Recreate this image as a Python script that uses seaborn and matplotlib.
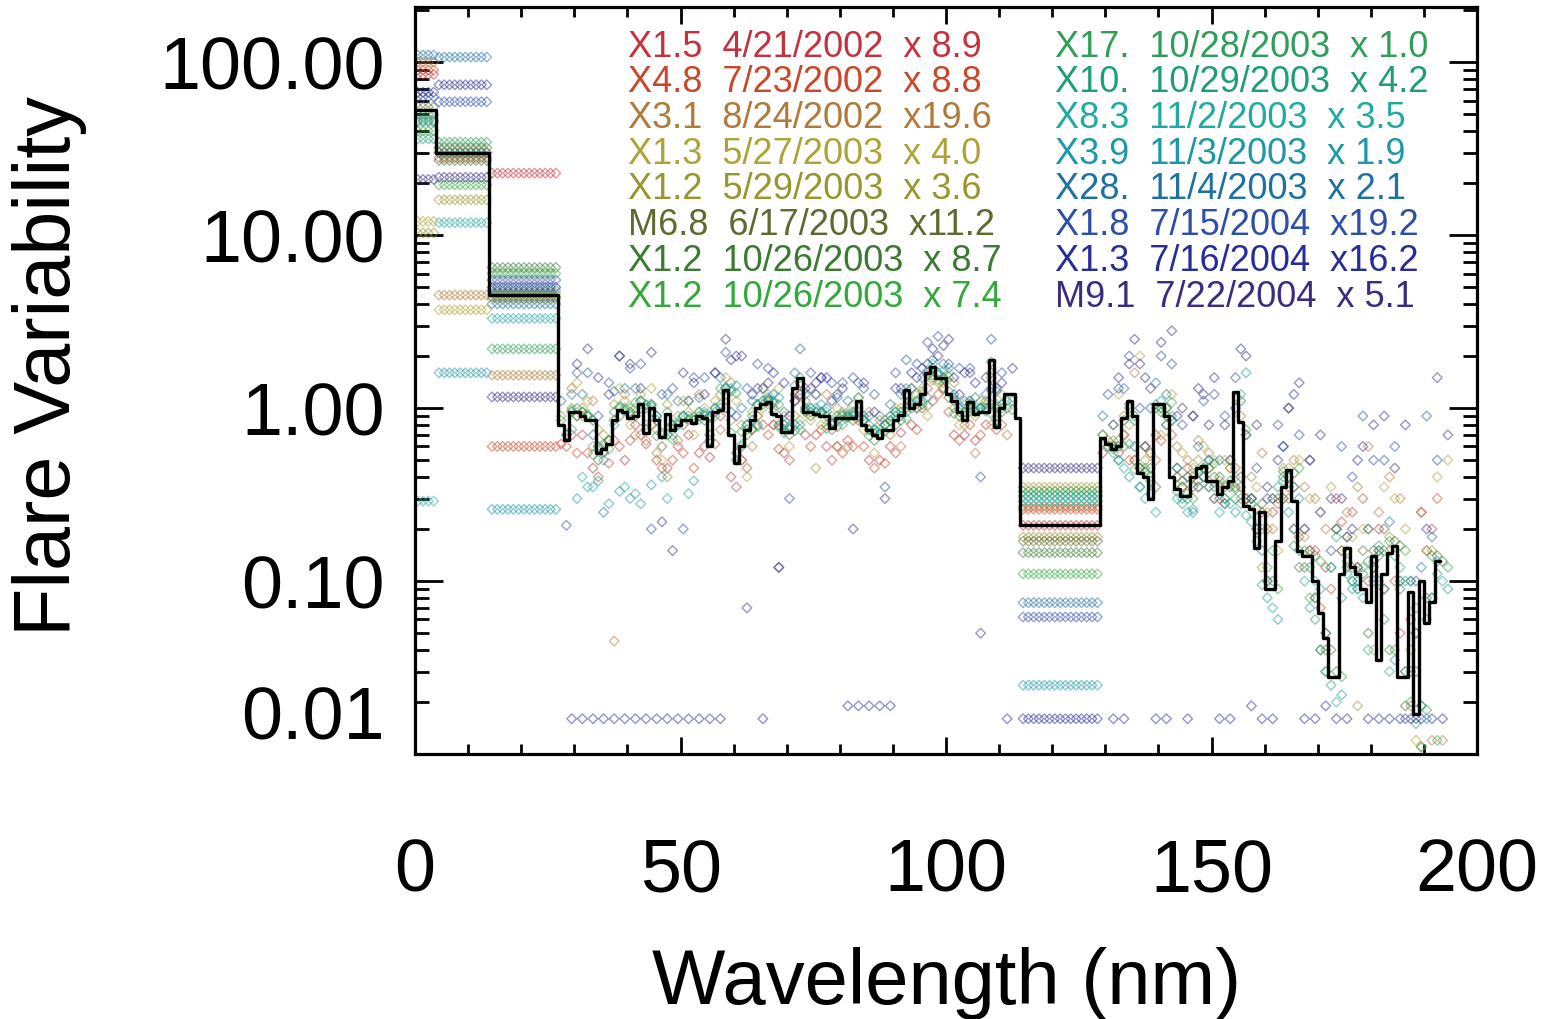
import numpy as np
import pandas as pd
import matplotlib
matplotlib.use("Agg")
import matplotlib.pyplot as plt
from matplotlib.ticker import MultipleLocator, LogLocator, NullFormatter
import seaborn as sns

# flares shown in the legend text
flare_class = ["X1.5", "X4.8", "X3.1", "X1.3", "X1.2", "M6.8", "X1.2", "X1.2",
               "X17.", "X10.", "X8.3", "X3.9", "X28.", "X1.8", "X1.3", "M9.1"]
flare_date = ["4/21/2002", "7/23/2002", "8/24/2002", "5/27/2003", "5/29/2003",
              "6/17/2003", "10/26/2003", "10/26/2003", "10/28/2003", "10/29/2003",
              "11/2/2003", "11/3/2003", "11/4/2003", "7/15/2004", "7/16/2004",
              "7/22/2004"]
flare_scale = ["x 8.9", "x 8.8", "x19.6", "x 4.0", "x 3.6", "x11.2", "x 8.7", "x 7.4",
               "x 1.0", "x 4.2", "x 3.5", "x 1.9", "x 2.1", "x19.2", "x16.2", "x 5.1"]
flare_colors = ["#c4323c", "#c8482c", "#b07a3a", "#aea436", "#98962c", "#5e6a30",
                "#3c7a32", "#34a83c", "#2e9e58", "#1e9e78", "#20aaa0", "#1c98a8",
                "#1e72a0", "#2e4ea8", "#262c98", "#3a2c80"]

# wide bins (nm) where each flare has a single value
bin_0_4 = [85, 90, 100, 12, 10.3, 55, 46, 40, 50, 36, 0.29, 45, 110, 63, 67, 21]
bin_4_14 = [30, 28, 4.5, 3.7, 16, 32, 27, 19.5, 34.5, 30, 11.8, 1.6, 107, 59, 74, 21.6]
bin_14_27 = [22.8, 0.6, 1.55, 4.3, 4.6, 4.4, 6.5, 6.0, 2.2, 4.8, 3.3, 0.26, 4.0, 5.5, 5.0, 1.16]
bin_114_129 = [0.21, 0.26, 0.27, 0.35, 0.18, 0.17, 0.146, 0.11, 0.33, 0.31, 0.29, 0.025,
               0.075, 0.062, 0.016, 0.45]

# 1 nm points, 27-111 nm (every 4th nm, start shifted by flare)
vals_a = [
    [0.62, 0.7, 0.55, 0.5, 0.62, 0.45, 0.7, 0.52, 0.4, 0.75, 0.8, 1.1, 0.7, 0.6, 0.85, 0.5, 0.72, 1.0, 1.3, 0.7, 0.8],
    [0.6, 0.55, 0.48, 0.65, 0.8, 0.5, 0.45, 0.62, 0.35, 0.9, 0.58, 1.2, 0.75, 0.55, 0.6, 0.48, 1.0, 1.3, 0.95, 0.8, 1.5],
    [1.3, 1.1, 0.045, 0.7, 0.55, 0.65, 1.2, 0.75, 0.5, 1.3, 0.9, 1.1, 1.2, 0.6, 0.95, 0.7, 1.3, 1.5, 1.4, 0.55, 0.9],
    [1.4, 0.75, 1.3, 1.2, 0.5, 1.1, 1.0, 1.5, 0.4, 1.2, 0.6, 0.85, 0.9, 1.05, 0.55, 1.0, 1.2, 1.4, 0.8, 1.1, 1.2],
    [0.9, 1.0, 0.7, 1.1, 0.8, 1.05, 0.95, 0.7, 0.85, 0.95, 1.0, 1.2, 0.45, 1.0, 1.15, 0.8, 1.0, 1.3, 1.4, 0.95, 1.05],
    [0.7, 0.9, 0.65, 0.95, 1.05, 0.8, 0.85, 1.0, 0.55, 1.05, 0.8, 1.4, 0.95, 0.9, 0.85, 0.8, 1.2, 1.55, 1.15, 1.05, 1.6],
    [0.95, 0.85, 0.85, 0.9, 0.85, 0.8, 0.9, 1.0, 0.6, 1.05, 0.75, 0.95, 0.9, 0.88, 0.75, 0.85, 1.0, 1.7, 1.1, 0.95, 0.8],
    [0.9, 0.6, 1.0, 1.0, 0.7, 0.9, 0.9, 1.2, 0.75, 1.1, 0.75, 0.95, 0.8, 0.9, 0.72, 0.95, 1.0, 1.45, 0.95, 1.0, 1.0],
    [0.85, 0.95, 0.62, 1.0, 0.75, 0.95, 0.9, 0.65, 0.72, 0.9, 0.95, 1.35, 0.95, 0.9, 1.15, 0.7, 0.95, 1.25, 1.5, 0.9, 1.0],
    [0.7, 0.9, 0.65, 0.92, 1.05, 0.8, 0.85, 1.0, 0.5, 1.05, 0.78, 1.5, 0.95, 0.92, 0.85, 0.8, 1.3, 1.65, 1.25, 1.1, 1.85],
    [0.75, 0.35, 0.8, 0.32, 0.9, 0.8, 0.95, 1.05, 0.62, 1.1, 0.8, 1.0, 0.95, 0.92, 0.8, 0.9, 1.05, 1.8, 1.15, 1.0, 0.85],
    [0.3, 0.38, 0.33, 0.28, 0.4, 0.9, 0.95, 1.3, 0.8, 1.15, 0.78, 1.0, 0.82, 0.95, 0.75, 0.95, 1.1, 1.6, 1.0, 1.0, 1.05],
    [1.1, 1.2, 0.25, 1.3, 1.0, 1.2, 1.1, 0.9, 0.95, 1.1, 1.2, 1.6, 1.2, 1.15, 1.4, 0.9, 1.2, 1.5, 1.8, 1.1, 1.2],
    [0.21, 1.6, 1.4, 1.7, 0.2, 1.3, 1.5, 1.6, 0.9, 1.8, 0.12, 2.2, 1.5, 1.4, 1.3, 0.35, 1.9, 2.4, 1.8, 1.7, 2.5],
    [0.016, 0.016, 0.016, 0.016, 0.016, 0.016, 0.016, 0.016, 2.0, 0.016, 1.4, 1.3, 1.5, 0.019, 0.019, 0.019, 1.6, 2.2, 1.5, 1.4, 1.3],
    [1.8, 1.5, 2.0, 1.3, 0.22, 1.6, 1.2, 2.5, 0.07, 1.4, 0.9, 1.3, 1.1, 0.2, 0.95, 1.3, 1.5, 2.0, 1.2, 0.05, 1.4],
]
# second set, 2 nm further along
vals_a2 = [
    [0.7, 0.45, 0.65, 0.8, 0.5, 0.6, 0.55, 0.9, 0.5, 0.8, 0.55, 0.7, 0.6, 0.65, 0.5, 0.6, 0.8, 1.1, 0.7, 0.65, 0.75],
    [0.55, 0.4, 0.6, 0.7, 0.45, 0.55, 0.6, 1.0, 0.45, 0.7, 0.5, 0.6, 0.5, 0.6, 0.45, 0.55, 0.75, 1.2, 0.65, 0.7, 0.8],
    [0.9, 0.6, 1.2, 0.65, 0.4, 1.1, 0.7, 1.4, 0.6, 0.8, 0.9, 1.2, 0.6, 1.0, 0.85, 0.6, 1.2, 1.3, 0.8, 1.1, 0.7],
    [1.1, 0.65, 0.8, 1.3, 0.75, 0.7, 1.1, 1.1, 0.9, 1.3, 0.85, 0.8, 0.95, 0.75, 0.85, 1.0, 0.9, 1.6, 1.1, 0.8, 1.15],
    [1.0, 0.6, 1.05, 1.0, 0.75, 0.9, 0.95, 1.2, 0.8, 1.0, 0.8, 1.0, 0.8, 0.95, 0.75, 0.9, 1.1, 1.45, 1.0, 0.9, 1.05],
    [0.9, 0.5, 0.9, 1.1, 0.6, 0.8, 0.85, 1.3, 0.7, 1.1, 0.7, 0.9, 0.75, 0.85, 0.65, 0.8, 1.0, 1.55, 0.9, 1.0, 0.95],
    [0.95, 0.56, 0.97, 1.04, 0.7, 0.86, 0.88, 1.25, 0.76, 1.07, 0.74, 0.95, 0.78, 0.88, 0.71, 0.85, 1.05, 1.48, 0.95, 0.96, 1.0],
    [0.92, 0.58, 1.0, 1.02, 0.66, 0.88, 0.9, 1.22, 0.78, 1.05, 0.75, 0.93, 0.8, 0.86, 0.73, 0.87, 1.03, 1.52, 0.97, 0.93, 0.98],
    [0.97, 0.54, 0.95, 1.08, 0.69, 0.83, 0.86, 1.3, 0.73, 1.1, 0.72, 0.97, 0.76, 0.9, 0.69, 0.84, 1.07, 1.55, 0.93, 0.97, 1.02],
    [1.0, 0.6, 1.02, 1.1, 0.72, 0.9, 0.92, 1.32, 0.8, 1.12, 0.78, 1.0, 0.82, 0.92, 0.75, 0.9, 1.1, 1.6, 1.0, 1.0, 1.05],
    [0.4, 0.5, 0.35, 1.05, 0.3, 0.32, 0.9, 1.3, 0.85, 1.1, 0.8, 1.0, 0.85, 0.95, 0.75, 0.9, 1.1, 1.65, 1.05, 1.0, 1.1],
    [0.35, 0.28, 0.3, 0.36, 0.7, 0.38, 0.95, 1.35, 0.8, 1.15, 0.8, 1.05, 0.85, 0.9, 0.8, 0.95, 1.15, 1.7, 1.05, 1.05, 1.1],
    [1.2, 0.7, 1.25, 1.3, 0.9, 1.1, 1.15, 1.5, 1.0, 1.3, 0.95, 1.2, 1.0, 1.1, 0.9, 1.05, 1.3, 1.9, 1.2, 1.15, 1.25],
    [1.6, 0.9, 2.0, 1.8, 1.2, 0.2, 1.5, 2.1, 1.3, 1.7, 0.3, 1.6, 1.4, 1.5, 1.2, 1.6, 1.8, 2.6, 1.7, 0.4, 1.6],
    [0.016, 0.016, 0.016, 0.016, 0.016, 0.016, 0.016, 1.9, 1.2, 1.6, 1.1, 1.4, 1.2, 0.019, 0.019, 1.3, 1.7, 2.3, 1.6, 1.5, 0.016],
    [2.2, 1.2, 1.8, 2.1, 0.15, 1.4, 1.6, 2.0, 1.3, 0.12, 1.2, 1.5, 1.3, 1.4, 0.3, 1.2, 1.8, 2.5, 1.6, 1.3, 1.7],
]

# 1 nm points, 129-194 nm
vals_b = [
    [0.55, 0.7, 0.6, 0.8, 0.45, 0.35, 0.5, 0.3, 0.25, 0.35, 0.15, 0.3, 0.12, 0.2, 0.05, 0.25],
    [0.65, 0.5, 0.55, 0.7, 0.4, 0.3, 0.45, 0.2, 0.28, 0.18, 0.07, 0.22, 0.3, 0.09, 0.03, 0.15],
    [0.8, 1.6, 0.5, 0.6, 0.65, 0.35, 0.9, 0.55, 0.3, 0.35, 0.2, 0.25, 0.6, 0.4, 0.019, 0.012],
    [1.2, 2.0, 0.7, 0.55, 0.6, 0.5, 0.7, 0.25, 0.45, 0.3, 0.35, 0.18, 0.04, 0.3, 0.012, 0.4],
    [0.7, 0.9, 0.5, 0.9, 0.4, 0.45, 0.45, 0.3, 0.2, 0.2, 0.08, 0.2, 0.019, 0.15, 0.1, 0.011],
    [0.6, 1.0, 0.45, 0.85, 0.35, 0.4, 0.35, 0.2, 0.3, 0.12, 0.04, 0.15, 0.15, 0.2, 0.019, 0.08],
    [0.6, 0.9, 0.35, 0.45, 0.38, 0.4, 1.1, 0.28, 0.4, 0.12, 0.04, 0.12, 0.05, 0.04, 0.1, 0.08],
    [0.65, 0.45, 1.0, 0.38, 0.45, 0.3, 0.75, 0.12, 0.3, 0.08, 0.12, 0.1, 0.13, 0.04, 0.07, 0.012],
    [0.7, 0.85, 0.45, 1.0, 0.3, 0.5, 0.38, 0.3, 0.15, 0.16, 0.06, 0.18, 0.09, 0.16, 0.1, 0.011],
    [0.6, 1.05, 0.38, 0.85, 0.25, 0.35, 0.3, 0.17, 0.35, 0.15, 0.04, 0.08, 0.12, 0.06, 0.03, 0.06],
    [0.55, 0.85, 0.25, 0.3, 0.35, 0.25, 1.2, 0.2, 0.38, 0.1, 0.03, 0.11, 0.04, 0.03, 0.1, 0.08],
    [0.5, 0.35, 1.1, 0.3, 0.4, 0.28, 1.6, 0.1, 0.25, 0.07, 0.12, 0.09, 0.1, 0.035, 0.05, 0.13],
    [0.9, 1.3, 0.6, 1.2, 0.4, 0.5, 0.5, 0.3, 0.3, 0.2, 0.08, 0.2, 0.1, 0.15, 0.09, 0.12],
    [1.2, 2.0, 1.0, 1.8, 0.9, 1.2, 1.5, 0.45, 0.8, 0.7, 0.25, 0.6, 0.9, 0.5, 0.016, 0.9],
    [0.016, 2.5, 0.016, 0.9, 1.3, 0.016, 2.2, 0.016, 0.6, 0.016, 0.019, 0.016, 0.016, 0.016, 0.016, 0.016],
    [1.5, 1.8, 2.4, 1.0, 1.2, 0.8, 2.0, 0.35, 1.0, 0.5, 0.3, 0.2, 0.8, 0.45, 0.016, 1.5],
]
vals_b2 = [
    [0.6, 0.5, 0.7, 0.4, 0.35, 0.3, 0.35, 0.25, 0.3, 0.2, 0.12, 0.18, 0.1, 0.15, 0.06, 0.2],
    [0.55, 0.45, 0.65, 0.35, 0.4, 0.28, 0.3, 0.2, 0.35, 0.15, 0.09, 0.25, 0.12, 0.1, 0.05, 0.3],
    [0.7, 0.6, 0.9, 0.5, 0.55, 0.45, 0.4, 0.3, 0.5, 0.3, 0.2, 0.35, 0.25, 0.3, 0.25, 0.012],
    [0.8, 0.55, 1.2, 0.45, 0.5, 0.4, 0.35, 0.15, 0.5, 0.25, 0.15, 0.2, 0.35, 0.2, 0.15, 0.5],
    [0.65, 0.5, 1.0, 0.4, 0.5, 0.38, 0.3, 0.12, 0.45, 0.18, 0.05, 0.15, 0.2, 0.18, 0.04, 0.15],
    [0.6, 0.45, 1.0, 0.35, 0.45, 0.35, 0.3, 0.1, 0.4, 0.15, 0.04, 0.12, 0.15, 0.17, 0.03, 0.14],
    [0.6, 0.43, 1.0, 0.32, 0.45, 0.35, 0.28, 0.1, 0.42, 0.14, 0.03, 0.12, 0.14, 0.16, 0.019, 0.13],
    [0.62, 0.4, 1.08, 0.3, 0.48, 0.34, 0.26, 0.09, 0.45, 0.13, 0.028, 0.11, 0.15, 0.15, 0.018, 0.12],
    [0.58, 0.44, 1.05, 0.33, 0.44, 0.36, 0.28, 0.095, 0.43, 0.15, 0.03, 0.13, 0.13, 0.17, 0.02, 0.14],
    [0.5, 0.35, 0.95, 0.28, 0.4, 0.3, 0.24, 0.08, 0.4, 0.12, 0.025, 0.1, 0.12, 0.14, 0.015, 0.11],
    [0.45, 0.3, 0.8, 0.25, 0.35, 0.28, 0.22, 0.07, 0.35, 0.1, 0.02, 0.09, 0.1, 0.12, 0.019, 0.1],
    [0.4, 0.32, 0.9, 0.26, 0.3, 0.25, 0.2, 0.06, 0.3, 0.09, 0.022, 0.08, 0.09, 0.1, 0.016, 0.09],
    [0.8, 0.6, 1.4, 0.45, 0.6, 0.5, 0.4, 0.15, 0.6, 0.2, 0.05, 0.18, 0.2, 0.22, 0.03, 0.18],
    [1.3, 1.0, 2.0, 0.8, 1.1, 0.9, 0.7, 0.3, 1.0, 0.5, 0.15, 0.4, 0.5, 0.6, 0.1, 0.5],
    [0.016, 1.5, 0.016, 0.016, 0.8, 0.016, 0.019, 0.016, 1.2, 0.016, 0.016, 0.5, 0.016, 0.016, 0.016, 0.016],
    [1.8, 1.3, 2.8, 0.9, 1.5, 1.0, 0.8, 0.5, 1.4, 0.7, 0.3, 0.6, 0.9, 0.8, 0.2, 0.7],
]

# black step line (average): wide bins, then 1 nm bins
black_wide = [53, 30, 4.5]
black_a = [0.80, 0.65, 0.95, 0.95, 0.9, 0.85, 0.85, 0.55, 0.58, 0.62,
           0.85, 0.98, 0.95, 0.88, 0.9, 1.05, 0.72, 1.0, 0.85, 0.68,
           0.93, 0.75, 0.8, 0.85, 0.85, 0.82, 0.9, 0.88, 0.6, 0.95,
           0.98, 1.27, 0.7, 0.48, 0.6, 0.75, 0.85, 1.0, 1.05, 1.08,
           0.93, 0.9, 0.73, 0.73, 1.3, 1.49, 0.95, 0.95, 0.92, 0.9,
           0.9, 0.77, 0.88, 0.88, 0.88, 0.88, 1.1, 0.8, 0.75, 0.7,
           0.67, 0.75, 0.75, 0.85, 0.91, 1.27, 1.0, 1.05, 1.2, 1.6,
           1.73, 1.5, 1.5, 1.2, 1.1, 0.95, 0.85, 1.08, 0.93, 0.95,
           0.95, 1.89, 0.78, 1.0, 1.2, 1.2, 0.88]          # 27..113 nm
black_mid = 0.21                                          # 114..129 nm
black_b = [0.67, 0.62, 0.58, 0.6, 0.88, 1.1, 0.9, 0.42, 0.4, 0.3,
           1.05, 1.05, 0.9, 0.4, 0.34, 0.31, 0.31, 0.4, 0.45, 0.46,
           0.38, 0.38, 0.32, 0.35, 0.38, 1.24, 0.83, 0.27, 0.26, 0.155,
           0.25, 0.09, 0.09, 0.17, 0.35, 0.44, 0.29, 0.15, 0.14, 0.14,
           0.1, 0.065, 0.047, 0.028, 0.028, 0.11, 0.155, 0.12, 0.11, 0.09,
           0.076, 0.14, 0.035, 0.11, 0.145, 0.16, 0.028, 0.028, 0.086, 0.017,
           0.1, 0.057, 0.076, 0.13]                        # 129..192 nm

labels = [f"{c}  {d}  {s}" for c, d, s in zip(flare_class, flare_date, flare_scale)]

# build point table
rows = []
for i, lab in enumerate(labels):
    g = i % 4
    for lo, hi, v in [(0, 4, bin_0_4[i]), (4, 14, bin_4_14[i]),
                      (14, 27, bin_14_27[i]), (114, 129, bin_114_129[i])]:
        for w in np.arange(lo + 0.5, hi, 1.0):
            rows.append((lab, w, v))
    for start, vals in [(27.5, vals_a[i]), (29.5, vals_a2[i]),
                        (129.5, vals_b[i]), (131.5, vals_b2[i])]:
        for k, v in enumerate(vals):
            rows.append((lab, start + g + 4 * k, v))
pts = pd.DataFrame(rows, columns=["flare", "wavelength", "variability"])

edges = [0, 4, 14] + list(range(27, 114)) + [114] + list(range(129, 194))
steps = black_wide + black_a + [black_mid] + black_b + [black_b[-1]]
line = pd.DataFrame({"wavelength": edges, "variability": steps})

sns.set_style("ticks")
plt.rcParams["font.family"] = ["Liberation Sans", "DejaVu Sans"]
plt.rcParams.update({"text.color": "black", "axes.labelcolor": "black",
                     "xtick.color": "black", "ytick.color": "black"})

fig = plt.figure(figsize=(15.47, 10.19), dpi=100)
ax = fig.add_axes([0.2683, 0.26, 0.6865, 0.733])
ax.set_yscale("log")

sns.scatterplot(data=pts, x="wavelength", y="variability", hue="flare",
                hue_order=labels, palette=dict(zip(labels, flare_colors)),
                marker="D", s=24, alpha=0.5, linewidth=1.0, legend=False,
                ax=ax, zorder=2)
coll = ax.collections[-1]
fc = coll.get_facecolors()
coll.set_edgecolor(fc)
coll.set_facecolor("none")

sns.lineplot(data=line, x="wavelength", y="variability", drawstyle="steps-post",
             estimator=None, color="black", linewidth=2.4, ax=ax, zorder=3)

# legend text, two columns
for i, (lab, col) in enumerate(zip(labels, flare_colors)):
    x = 0.2006 if i < 8 else 0.6026
    y = 0.9465 - 0.0478 * (i % 8)
    ax.text(x, y, lab, transform=ax.transAxes, color=col, fontsize=26,
            va="center", ha="left", zorder=4)

ax.set_xlim(0, 200)
ax.set_ylim(0.01, 208)
ax.set_xticks([0, 50, 100, 150, 200])
ax.xaxis.set_minor_locator(MultipleLocator(10))
ax.set_yticks([0.01, 0.1, 1, 10, 100], labels=["0.01", "0.10", "1.00", "10.00", "100.00"])
ax.yaxis.set_minor_locator(LogLocator(base=10, subs=range(2, 10)))
ax.yaxis.set_minor_formatter(NullFormatter())

ax.tick_params(which="both", direction="in", top=True, right=True, width=2, color="black")
ax.tick_params(axis="x", which="major", length=12, pad=60, labelsize=53)
ax.tick_params(axis="x", which="minor", length=7)
ax.tick_params(axis="y", which="major", length=20, pad=22, labelsize=53)
ax.tick_params(axis="y", which="minor", length=10)
ax.get_yticklabels()[0].set_va("bottom")

for sp in ax.spines.values():
    sp.set_linewidth(2.3)
    sp.set_color("black")

ax.set_xlabel("Wavelength (nm)", fontsize=56)
ax.set_ylabel("Flare Variability", fontsize=57)
ax.xaxis.set_label_coords(0.5, -0.258)
ax.yaxis.set_label_coords(-0.309, 0.52)

fig.savefig("out.png", dpi=100)
